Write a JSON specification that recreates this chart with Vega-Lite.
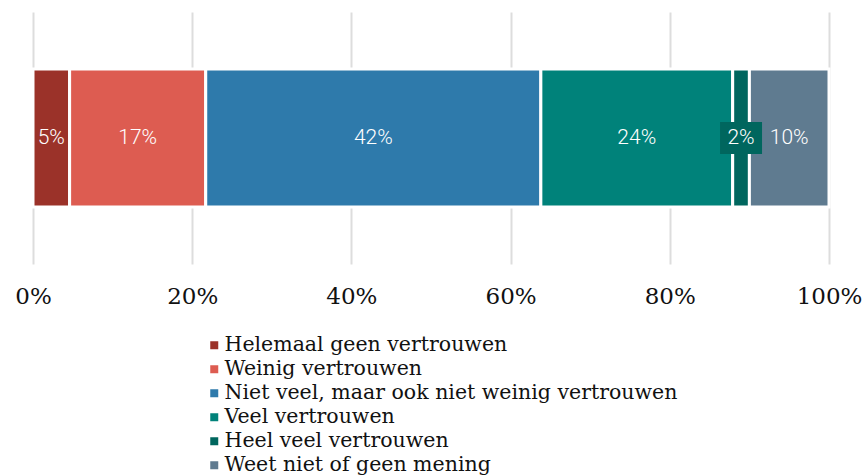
{
  "$schema": "https://vega.github.io/schema/vega-lite/v6.json",
  "width": 796,
  "height": 252,
  "padding": {"left": 33, "top": 12, "right": 36, "bottom": 211},
  "autosize": {"type": "none"},
  "background": "white",
  "config": {"view": {"stroke": null}},
  "data": {
    "values": [
      {"cat": "Helemaal geen vertrouwen", "value": 0.046, "order": 1, "row": "all"},
      {"cat": "Weinig vertrouwen", "value": 0.171, "order": 2, "row": "all"},
      {"cat": "Niet veel, maar ook niet weinig vertrouwen", "value": 0.421, "order": 3, "row": "all"},
      {"cat": "Veel vertrouwen", "value": 0.241, "order": 4, "row": "all"},
      {"cat": "Heel veel vertrouwen", "value": 0.021, "order": 5, "row": "all"},
      {"cat": "Weet niet of geen mening", "value": 0.1, "order": 6, "row": "all"}
    ]
  },
  "transform": [
    {"stack": "value", "groupby": ["row"], "sort": [{"field": "order"}], "as": ["v0", "v1"]},
    {"calculate": "(datum.v0 + datum.v1) / 2", "as": "mid"}
  ],
  "encoding": {
    "y": {"field": "row", "type": "nominal", "axis": null, "scale": {"paddingInner": 0, "paddingOuter": 0.413}}
  },
  "layer": [
    {
      "mark": {"type": "bar", "stroke": "white", "strokeWidth": 3},
      "encoding": {
        "x": {"field": "v0", "type": "quantitative", "scale": {"domain": [0, 1]},
          "axis": {"format": ".0%", "values": [0, 0.2, 0.4, 0.6, 0.8, 1], "domain": false, "ticks": false,
            "grid": true, "gridColor": "#dddddd", "gridWidth": 2, "labelFont": "DejaVu Serif", "labelFontSize": 23,
            "labelColor": "#111111", "labelPadding": 21, "labelFlush": false, "labelOverlap": false, "title": null}},
        "x2": {"field": "v1"},
        "color": {"field": "cat", "type": "nominal",
          "sort": ["Helemaal geen vertrouwen", "Weinig vertrouwen", "Niet veel, maar ook niet weinig vertrouwen", "Veel vertrouwen", "Heel veel vertrouwen", "Weet niet of geen mening"],
          "scale": {"domain": ["Helemaal geen vertrouwen", "Weinig vertrouwen", "Niet veel, maar ook niet weinig vertrouwen", "Veel vertrouwen", "Heel veel vertrouwen", "Weet niet of geen mening"],
            "range": ["#9b3229", "#dd5c51", "#2e7aab", "#00827a", "#00665e", "#5f7b90"]},
          "legend": {"orient": "none", "legendX": 171, "legendY": 323, "title": null, "direction": "vertical",
            "symbolType": "square", "symbolSize": 64, "symbolStrokeWidth": 0, "labelFont": "DejaVu Serif",
            "labelFontSize": 20.5, "labelColor": "#111111", "rowPadding": 3, "labelOffset": 0, "padding": 0, "labelLimit": 600}}
      }
    },
    {
      "transform": [{"filter": "datum.cat == 'Heel veel vertrouwen'"}],
      "mark": {"type": "point", "filled": true, "opacity": 1, "shape": "M-1,-0.762H1V0.762H-1Z", "size": 1764, "color": "#00665e"},
      "encoding": {"x": {"field": "mid", "type": "quantitative"}}
    },
    {
      "mark": {"type": "text", "color": "white", "font": "Roboto", "fontWeight": 300, "fontSize": 21, "baseline": "middle", "align": "center"},
      "encoding": {
        "x": {"field": "mid", "type": "quantitative"},
        "text": {"field": "value", "type": "quantitative", "format": ".0%"}
      }
    }
  ]
}
